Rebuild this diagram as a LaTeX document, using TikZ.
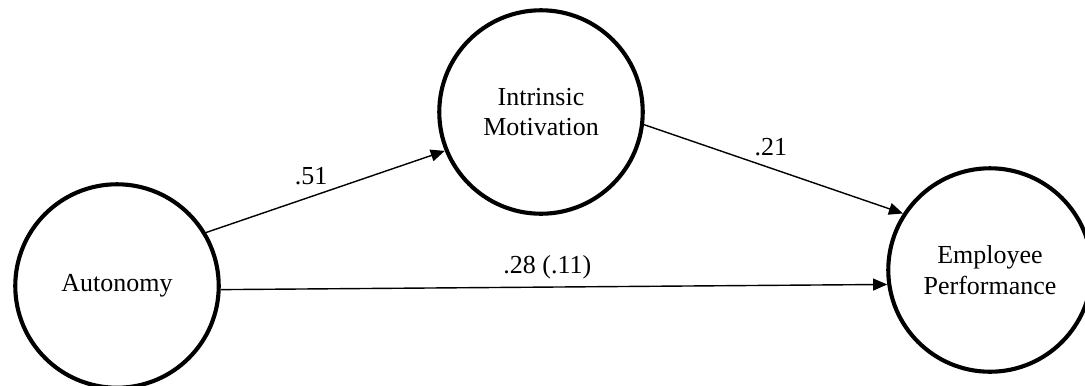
\documentclass[tikz,border=0pt]{standalone}
\usepackage{fontspec}
\setmainfont{Liberation Serif}
\usetikzlibrary{arrows.meta, positioning}

\begin{document}
\begin{tikzpicture}[
    x=0.462pt, y=-0.462pt,
    latent/.style={
        draw,
        circle,
        line width=1.9pt,
        minimum size=94pt,
        inner sep=0pt,
        align=center,
        font=\fontsize{12}{14}\selectfont
    },
    path/.style={-{Triangle[length=6.5pt,width=5.5pt]}, line width=0.65pt},
    coef/.style={above, font=\fontsize{12}{14}\selectfont}
]
\useasboundingbox (0,0) rectangle (1085,385);

\node[latent] (autonomy) at (117,286) {Autonomy};
\node[latent] (intrinsic) at (541,112) {Intrinsic\\Motivation};
\node[latent] (performance) at (990,270) {Employee\\Performance};

\draw[path] (autonomy.31) -- node[coef, pos=0.44, yshift=2pt] {.51} (intrinsic.202);
\draw[path] (intrinsic.-7) -- node[coef, pos=0.49, yshift=2pt] {.21} (performance.147);
\draw[path] (autonomy.-2) -- node[coef, pos=0.49, yshift=0pt] {.28 (.11)} (performance.188);
\end{tikzpicture}
\end{document}
